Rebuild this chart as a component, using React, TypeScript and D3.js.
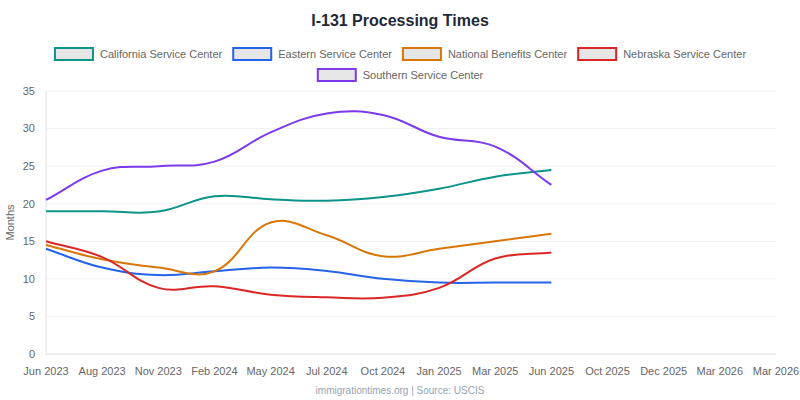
import React from "react";
import * as d3 from "d3";

const categories = [
  "Jun 2023", "Aug 2023", "Nov 2023", "Feb 2024", "May 2024", "Jul 2024", "Oct 2024",
  "Jan 2025", "Mar 2025", "Jun 2025", "Oct 2025", "Dec 2025", "Mar 2026", "Mar 2026",
];

const california = [19.0, 19.0, 18.95, 21.0, 20.6, 20.4, 20.9, 22.0, 23.6, 24.5];
const eastern = [14.0, 11.5, 10.5, 11.0, 11.5, 11.05, 10.0, 9.5, 9.5, 9.5];
const national = [14.5, 12.6, 11.5, 11.0, 17.5, 15.8, 13.0, 14.0, 15.0, 16.0];
const nebraska = [15.0, 12.9, 8.8, 9.0, 7.9, 7.55, 7.5, 8.8, 12.7, 13.5];
const southern = [20.5, 24.4, 25.0, 25.6, 29.5, 32.0, 31.8, 28.9, 27.6, 22.5];

const yTicks = [0, 5, 10, 15, 20, 25, 30, 35];

const seriesNames = [
  "California Service Center",
  "Eastern Service Center",
  "National Benefits Center",
  "Nebraska Service Center",
  "Southern Service Center",
];
const seriesColors = ["#0d9488", "#2563eb", "#d97706", "#dc2626", "#7c3aed"];
const seriesData = [california, eastern, national, nebraska, southern];

const FONT = "'Liberation Sans', Arial, Helvetica, sans-serif";

function splinePath(pts: [number, number][], tension: number): string {
  const n = pts.length;
  const cps: { pX: number; pY: number; nX: number; nY: number }[] = [];
  for (let i = 0; i < n; i++) {
    const prev = pts[Math.max(0, i - 1)];
    const cur = pts[i];
    const next = pts[Math.min(n - 1, i + 1)];
    const d01 = Math.hypot(cur[0] - prev[0], cur[1] - prev[1]);
    const d12 = Math.hypot(next[0] - cur[0], next[1] - cur[1]);
    let s01 = d01 / (d01 + d12);
    let s12 = d12 / (d01 + d12);
    if (isNaN(s01)) s01 = 0;
    if (isNaN(s12)) s12 = 0;
    const fa = tension * s01;
    const fb = tension * s12;
    cps.push({
      pX: cur[0] - fa * (next[0] - prev[0]),
      pY: cur[1] - fa * (next[1] - prev[1]),
      nX: cur[0] + fb * (next[0] - prev[0]),
      nY: cur[1] + fb * (next[1] - prev[1]),
    });
  }
  let d = `M${pts[0][0]},${pts[0][1]}`;
  for (let i = 1; i < n; i++) {
    d += `C${cps[i - 1].nX},${cps[i - 1].nY},${cps[i].pX},${cps[i].pY},${pts[i][0]},${pts[i][1]}`;
  }
  return d;
}

function measure(text: string, size: number): number {
  const c = document.createElement("canvas").getContext("2d");
  if (!c) return text.length * size * 0.5;
  c.font = `${size}px ${FONT}`;
  return c.measureText(text).width;
}

export default function App() {
  const W = 800;
  const H = 400;
  const left = 46;
  const right = 776;
  const top = 91;
  const bottom = 354;

  const x = d3.scalePoint<number>().domain(d3.range(categories.length)).range([left, right]);
  const y = d3.scaleLinear().domain([0, 35]).range([bottom, top]);

  const legendFont = 11;
  const boxW = 40;
  const boxH = 12;
  const gap = 6;
  const pad = 10;
  const widths = seriesNames.map((s) => boxW + gap + measure(s, legendFont));
  const rows: number[][] = [[0, 1, 2, 3], [4]];
  const rowY = [54, 75];

  return (
    <svg width={W} height={H} style={{ position: "absolute", left: 0, top: 0, background: "#fff" }} fontFamily={FONT}>
      <text x={400} y={26} textAnchor="middle" fontSize={16} fontWeight="bold" fill="#1f2937">
        I-131 Processing Times
      </text>

      {rows.map((row, ri) => {
        const total = row.reduce((a, i) => a + widths[i], 0) + pad * (row.length - 1);
        let cx = W / 2 - total / 2;
        return row.map((i) => {
          const bx = cx;
          cx += widths[i] + pad;
          return (
            <g key={i}>
              <rect x={bx + 1} y={rowY[ri] - boxH / 2} width={boxW - 2} height={boxH} fill="#e6e6e6" stroke={seriesColors[i]} strokeWidth={2} />
              <text x={bx + boxW + gap} y={rowY[ri]} dy="0.35em" fontSize={legendFont} fill="#666">
                {seriesNames[i]}
              </text>
            </g>
          );
        });
      })}

      {yTicks.map((t) => (
        <g key={t}>
          <line x1={left} x2={right} y1={y(t)} y2={y(t)} stroke={t === 0 ? "#dcdcdc" : "#f1f1f4"} strokeWidth={1} />
          <text x={35} y={y(t)} dy="0.35em" textAnchor="end" fontSize={11} fill="#666">
            {t}
          </text>
        </g>
      ))}
      <line x1={left} x2={left} y1={top} y2={bottom} stroke="#e2e2e6" strokeWidth={1} />

      {categories.map((c, i) => (
        <text key={i} x={x(i)} y={371} dy="0.35em" textAnchor="middle" fontSize={11} fill="#666">
          {c}
        </text>
      ))}

      <text transform={`translate(10,${(top + bottom) / 2}) rotate(-90)`} textAnchor="middle" dy="0.35em" fontSize={11} fill="#666">
        Months
      </text>

      {seriesData.map((vals, si) => {
        const pts = vals.map((v, i) => [x(i) as number, y(v)] as [number, number]);
        return <path key={si} d={splinePath(pts, 0.4)} fill="none" stroke={seriesColors[si]} strokeWidth={2} />;
      })}

      <text x={400} y={394} textAnchor="middle" fontSize={10} fill="#94a3b8">
        immigrationtimes.org | Source: USCIS
      </text>
    </svg>
  );
}
